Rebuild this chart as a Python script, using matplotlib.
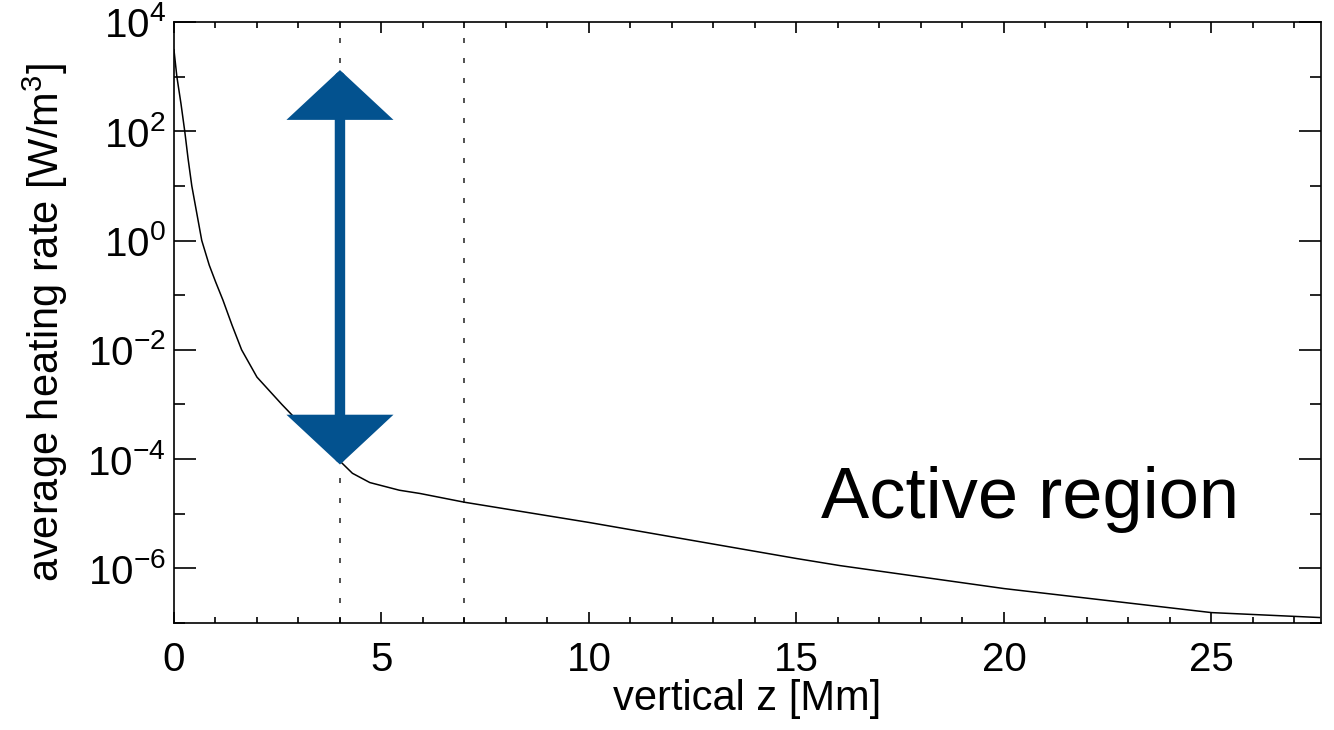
import numpy as np
import matplotlib
matplotlib.use("Agg")
import matplotlib.pyplot as plt
import matplotlib.ticker as mticker
import matplotlib.patheffects as pe
from matplotlib.patches import FancyArrowPatch, ArrowStyle

plt.rcParams["font.family"] = ["Liberation Sans", "DejaVu Sans"]
plt.rcParams["mathtext.fontset"] = "custom"
plt.rcParams["mathtext.rm"] = "Liberation Sans"
plt.rcParams["mathtext.it"] = "Liberation Sans"
plt.rcParams["mathtext.default"] = "regular"

# height z [Mm] and log10 of the average heating rate [W/m^3]
z_mm = [0.0, 0.07, 0.17, 0.26, 0.34, 0.43, 0.55, 0.67, 0.85, 1.0, 1.18, 1.4,
        1.63, 2.0, 2.6, 3.27, 3.95, 4.3, 4.72, 5.43, 5.93, 7.0, 10.0, 15.0,
        16.05, 20.0, 22.5, 25.0, 27.6]
log_heat = [3.49, 3.0, 2.5, 2.0, 1.5, 1.0, 0.5, 0.0, -0.45, -0.75, -1.09, -1.55,
            -2.0, -2.5, -3.0, -3.53, -4.0, -4.26, -4.43, -4.57, -4.63, -4.79,
            -5.16, -5.82, -5.95, -6.37, -6.59, -6.81, -6.90]

# dotted markers and arrow span
z_marks = [4.0, 7.0]
arrow_z = 4.0
arrow_top = 10 ** 3.12
arrow_bottom = 10 ** -4.1

heat = 10 ** np.array(log_heat)

fig = plt.figure(figsize=(13.34, 7.30), dpi=100)
ax = fig.add_axes([0.1304, 0.1466, 0.8599, 0.8233])

ax.plot(z_mm, heat, color="black", lw=1.1, zorder=3)
ax.set_yscale("log")
ax.set_xlim(0, 27.64)
ax.set_ylim(1e-7, 1e4)

for zm in z_marks:
    ax.axvline(zm, color="#333333", lw=1.2, ls=(0, (3, 9)), zorder=1)

# big two-headed arrow
style = ArrowStyle("<|-|>", head_length=27, head_width=29)
arr = FancyArrowPatch((arrow_z, arrow_bottom), (arrow_z, arrow_top),
                      arrowstyle=style, mutation_scale=1, lw=7.5,
                      color="#03528f", shrinkA=0, shrinkB=0, zorder=4,
                      joinstyle="miter")
arr.set_path_effects([pe.SimplePatchShadow(offset=(2, -3), alpha=0.35,
                                           shadow_rgbFace="#555555"),
                      pe.Normal()])
ax.add_patch(arr)

ax.text(0.929, 0.175, "Active region", transform=ax.transAxes,
        fontsize=52, ha="right", va="baseline")

# ticks
ax.xaxis.set_major_locator(mticker.MultipleLocator(5))
ax.xaxis.set_minor_locator(mticker.MultipleLocator(1))
ax.yaxis.set_major_locator(mticker.FixedLocator([10.0 ** k for k in range(-6, 5, 2)]))
ax.yaxis.set_minor_locator(mticker.FixedLocator([10.0 ** k for k in range(-7, 4, 2)]))
ax.yaxis.set_major_formatter(mticker.LogFormatterMathtext())
ax.yaxis.set_minor_formatter(mticker.NullFormatter())

ax.tick_params(axis="both", which="both", direction="in", top=True, right=True,
               width=1.2, colors="black")
ax.tick_params(axis="x", which="major", length=8, pad=13, labelsize=29)
ax.tick_params(axis="x", which="minor", length=4)
ax.tick_params(axis="y", which="major", length=16, pad=6, labelsize=29)
ax.tick_params(axis="y", which="minor", length=8)
for s in ax.spines.values():
    s.set_linewidth(1.2)

ax.set_xlabel("vertical z [Mm]", fontsize=30, labelpad=0)
ax.set_ylabel("average heating rate [W/m$^3$]", fontsize=30, labelpad=12)

fig.savefig("out.png", dpi=100)
